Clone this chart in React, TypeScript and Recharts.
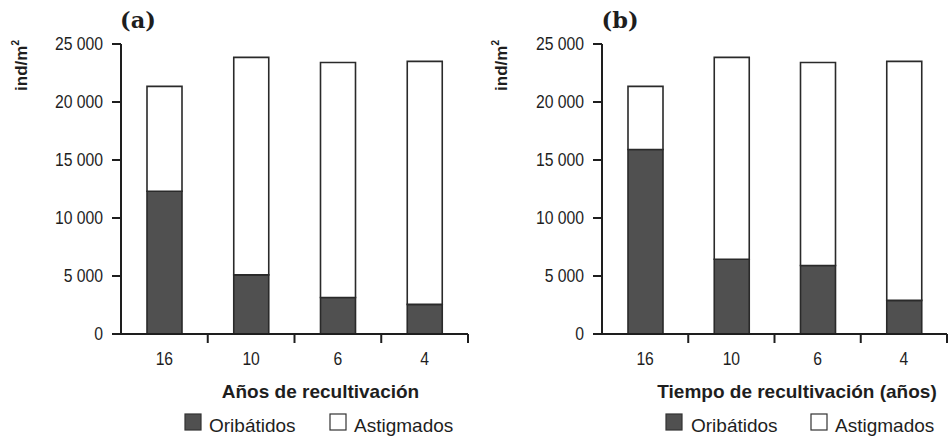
import React from "react";
import { BarChart, Bar, XAxis, YAxis } from "recharts";

// ── Data ─────────────────────────────────────────────────────────────
const categories = ["16", "10", "6", "4"];
const oribatidosA = [12300, 5100, 3150, 2550];
const astigmadosA = [9050, 18750, 20250, 20950];
const oribatidosB = [15900, 6450, 5900, 2900];
const astigmadosB = [5450, 17400, 17500, 20600];
const yTicks = [0, 5000, 10000, 15000, 20000, 25000];

const DARK = "#505050";
const INK = "#1e1e1e";
const SANS = "'Liberation Sans', Arial, sans-serif";

const fmt = (v: number) => (v === 0 ? "0" : `${v / 1000} 000`);

// category label at the band centre, tick mark at the band's right edge
const XTick = (props: any) => {
  const { x, y, payload, half } = props;
  return (
    <g>
      <line x1={x + half} x2={x + half} y1={y} y2={y + 9} stroke={INK} strokeWidth={2} />
      <text
        transform={`translate(${x}, ${y + 31}) scale(0.85, 1)`}
        textAnchor="middle"
        fontFamily={SANS}
        fontSize={18.5}
        fill={INK}
      >
        {payload.value}
      </text>
    </g>
  );
};

const YTick = (props: any) => {
  const { x, y, payload } = props;
  return (
    <text
      transform={`translate(${x}, ${y}) scale(0.9, 1)`}
      textAnchor="end"
      dy="0.36em"
      fontFamily={SANS}
      fontSize={17.5}
      fill={INK}
    >
      {fmt(payload.value)}
    </text>
  );
};

interface PanelProps {
  tag: string;
  xTitle: string;
  orib: number[];
  astig: number[];
  left: number;
  right: number;
  yLabelX: number;
  tagX: number;
  titleX: number;
  legendX: number[];
}

function Panel(p: PanelProps) {
  const data = categories.map((c, i) => ({ cat: c, orib: p.orib[i], astig: p.astig[i] }));
  const yAxisW = 60;
  const plotW = 474 - p.left - p.right;
  return (
    <BarChart
      width={474}
      height={436}
      data={data}
      margin={{ top: 44, right: p.right, bottom: 72, left: p.left - yAxisW }}
      barSize={35}
    >
      <XAxis
        dataKey="cat"
        height={30}
        axisLine={{ stroke: INK, strokeWidth: 2 }}
        tickLine={false}
        tickSize={0}
        tickMargin={0}
        interval={0}
        tick={<XTick half={plotW / 8} />}
      />
      <YAxis
        width={yAxisW}
        domain={[0, 25000]}
        ticks={yTicks}
        interval={0}
        axisLine={{ stroke: INK, strokeWidth: 2 }}
        tickLine={{ stroke: INK, strokeWidth: 2 }}
        tickSize={9}
        tickMargin={9}
        tick={<YTick />}
      />
      <Bar dataKey="orib" stackId="s" fill={DARK} stroke="#2a2a2a" strokeWidth={1.6} isAnimationActive={false} />
      <Bar dataKey="astig" stackId="s" fill="#ffffff" stroke="#2a2a2a" strokeWidth={1.6} isAnimationActive={false} />

      <text x={p.tagX} y={27.5} fontFamily="'DejaVu Serif', serif" fontWeight="bold" fontSize={22.5} fill={INK}>
        {p.tag}
      </text>
      <text
        transform={`translate(${p.yLabelX}, 65.5) rotate(-90)`}
        textAnchor="middle"
        fontFamily={SANS}
        fontWeight="bold"
        fontSize={17}
        fill={INK}
      >
        ind/m
        <tspan dy={-8} fontSize={10}>
          2
        </tspan>
      </text>
      <text x={p.titleX} y={398} textAnchor="middle" fontFamily={SANS} fontWeight="bold" fontSize={19} fill={INK}>
        {p.xTitle}
      </text>

      {/* legend */}
      <rect x={p.legendX[0]} y={414} width={16} height={16} fill={DARK} stroke="#333" strokeWidth={1.2} />
      <text x={p.legendX[1]} y={431.5} fontFamily={SANS} fontSize={19} fill={INK}>
        Oribátidos
      </text>
      <rect x={p.legendX[2]} y={414} width={16} height={16} fill="#fff" stroke="#333" strokeWidth={1.2} />
      <text x={p.legendX[3]} y={431.5} fontFamily={SANS} fontSize={19} fill={INK}>
        Astigmados
      </text>
    </BarChart>
  );
}

export default function App() {
  return (
    <div style={{ position: "absolute", left: 0, top: 0, width: 948, height: 436, background: "#fff", display: "flex" }}>
      <Panel
        tag="(a)"
        xTitle="Años de recultivación"
        orib={oribatidosA}
        astig={astigmadosA}
        left={121}
        right={6}
        yLabelX={27}
        tagX={120}
        titleX={320.5}
        legendX={[185, 209, 330, 354]}
      />
      <Panel
        tag="(b)"
        xTitle="Tiempo de recultivación (años)"
        orib={oribatidosB}
        astig={astigmadosB}
        left={128}
        right={1}
        yLabelX={33}
        tagX={127.5}
        titleX={323}
        legendX={[192, 217, 337, 361]}
      />
    </div>
  );
}
